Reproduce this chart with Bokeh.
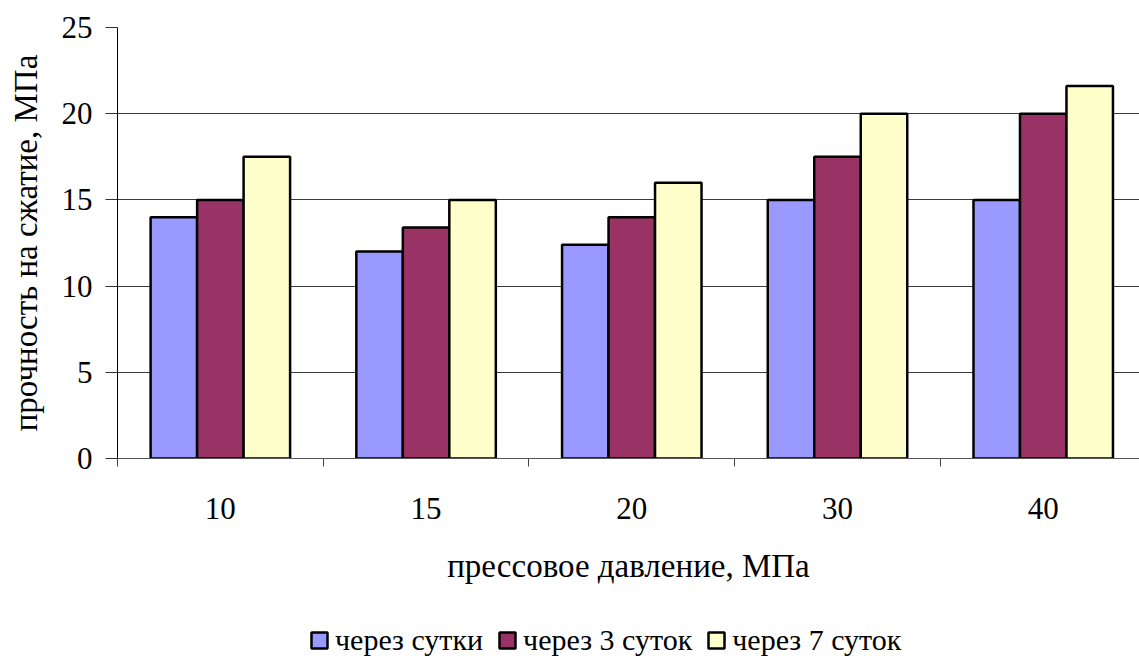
from bokeh.plotting import figure
from bokeh.layouts import column
from bokeh.models import Range1d, FixedTicker, Legend, LegendItem
from bokeh.embed import file_html
from bokeh.resources import INLINE

categories = ["10", "15", "20", "30", "40"]
series_names = ["через сутки", "через 3 суток", "через 7 суток"]
s_day1 = [14, 12, 12.4, 15, 15]
s_day3 = [15, 13.4, 14, 17.5, 20]
s_day7 = [17.5, 15, 16, 20, 21.6]
colors = ["#9999FF", "#993366", "#FFFFCC"]
y_ticks = [0, 5, 10, 15, 20, 25]

FONT = "Times New Roman"

p = figure(width=1139, height=615, output_backend="svg", toolbar_location=None,
           x_range=Range1d(0, 4.968), y_range=Range1d(0, 25),
           min_border_left=117, min_border_top=27, min_border_right=0,
           min_border_bottom=157, outline_line_color=None)
p.background_fill_color = "white"
p.border_fill_color = "white"

centers = [i + 0.5 for i in range(len(categories))]
bw = 0.226
offsets = [-bw, 0, bw]
series = [s_day1, s_day3, s_day7]
for vals, off, col in zip(series, offsets, colors):
    p.vbar(x=[c + off for c in centers], top=vals, width=bw, bottom=0,
           fill_color=col, line_color="black", line_width=2.5)

# x axis
p.xaxis.ticker = FixedTicker(ticks=centers, minor_ticks=list(range(len(categories) + 1)))
p.xaxis.major_label_overrides = {c: cat for c, cat in zip(centers, categories)}
p.xaxis.major_tick_out = 0
p.xaxis.major_tick_in = 0
p.xaxis.minor_tick_out = 8
p.xaxis.minor_tick_in = 0
p.xaxis.minor_tick_line_color = "#444444"
p.xaxis.axis_line_color = "#555555"
p.xaxis.major_label_text_font = FONT
p.xaxis.major_label_text_font_size = "31px"
p.xaxis.major_label_text_color = "black"
p.xaxis.major_label_standoff = 31
p.xaxis.axis_label = "прессовое давление, МПа"
p.xaxis.axis_label_text_font = FONT
p.xaxis.axis_label_text_font_size = "33px"
p.xaxis.axis_label_text_font_style = "normal"
p.xaxis.axis_label_text_color = "black"
p.xaxis.axis_label_standoff = 26

# y axis
p.yaxis.ticker = FixedTicker(ticks=y_ticks, minor_ticks=[])
p.yaxis.major_tick_out = 12
p.yaxis.major_tick_in = 0
p.yaxis.major_tick_line_color = "#333333"
p.yaxis.axis_line_color = "black"
p.yaxis.axis_line_width = 1
p.yaxis.major_label_text_font = FONT
p.yaxis.major_label_text_font_size = "31px"
p.yaxis.major_label_text_color = "black"
p.yaxis.major_label_standoff = 13
p.yaxis.axis_label = "прочность на сжатие, МПа"
p.yaxis.axis_label_text_font = FONT
p.yaxis.axis_label_text_font_size = "33px"
p.yaxis.axis_label_text_font_style = "normal"
p.yaxis.axis_label_text_color = "black"
p.yaxis.axis_label_standoff = 15

p.xgrid.grid_line_color = None
p.ygrid.ticker = FixedTicker(ticks=y_ticks)
p.ygrid.grid_line_color = "#3a3a3a"
p.ygrid.grid_line_width = 1

# legend in a separate strip below the chart
lg = figure(width=1139, height=53, output_backend="svg", toolbar_location=None,
            x_range=Range1d(0, 1), y_range=Range1d(0, 1),
            x_axis_location=None, y_axis_location=None,
            min_border=0, outline_line_color=None)
lg.xgrid.grid_line_color = None
lg.ygrid.grid_line_color = None
items = []
for col, name in zip(colors, series_names):
    r = lg.vbar(x=[0.5], top=[0.6], bottom=0.4, width=0.1, fill_color=col,
                line_color="black", line_width=2.5)
    r.visible = False
    items.append(LegendItem(label=name, renderers=[r]))
legend = Legend(items=items, orientation="horizontal", location=(192, 11),
                label_text_font=FONT, label_text_font_size="30px",
                label_text_color="black",
                glyph_width=20, glyph_height=20, label_standoff=6, spacing=14,
                border_line_color=None, background_fill_alpha=0, margin=0, padding=2,
                inactive_fill_alpha=0)
lg.add_layout(legend, "center")

layout = column(p, lg, spacing=0)
open("out.html", "w").write(file_html(layout, INLINE))
